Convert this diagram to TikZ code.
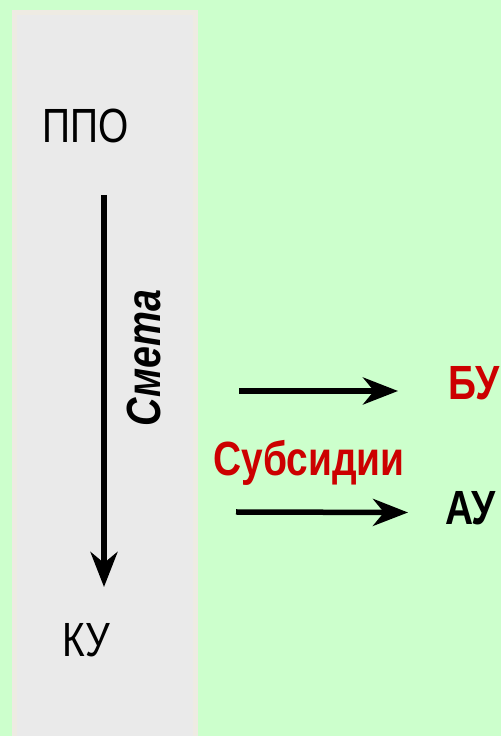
\documentclass[tikz,border=0pt]{standalone}
\usepackage{fontspec}
\setmainfont{Liberation Sans}
\usetikzlibrary{arrows.meta}
\definecolor{bggreen}{HTML}{CCFFCC}
\definecolor{panelgray}{HTML}{EAEAEA}
\definecolor{panelrim}{HTML}{EEEBE3}
\definecolor{darkred}{HTML}{CC0000}
\tikzset{
  lbl/.style={inner sep=0pt, font=\fontsize{48}{56}\selectfont, xscale=0.81},
  blbl/.style={lbl, font=\fontsize{48}{56}\selectfont\bfseries},
  arr/.style={line width=5.5pt, -{Stealth[length=35pt,width=27pt,inset=11pt]}}
}
\begin{document}
\begin{tikzpicture}[x=1pt,y=1pt]
\fill[bggreen] (0,0) rectangle (501,736);
\useasboundingbox (0,0) rectangle (501,736);
\fill[panelrim] (12,0) rectangle (197.5,726);
\fill[panelgray] (17,0) rectangle (193,720.5);
\node[lbl, anchor=base] (ppo) at (85.5,593) {ППО};
\node[lbl, anchor=base] (ku) at (86,79) {КУ};
\node[inner sep=0pt, font=\fontsize{48}{56}\selectfont\bfseries\itshape, rotate=90, xscale=0.82, anchor=base] (smeta) at (160,378) {Смета};
\node[blbl, text=darkred, anchor=base west] (bu) at (448,336) {БУ};
\node[blbl, text=darkred, anchor=base] (subs) at (309,260) {Субсидии};
\node[blbl, anchor=base] (au) at (470.5,211) {АУ};
\coordinate (v1) at (104,541);
\coordinate (v2) at (104,149);
\coordinate (a1s) at (239,345);
\coordinate (a1e) at (398,345);
\coordinate (a2s) at (236,224);
\coordinate (a2e) at (408,223.5);
\draw[arr] (v1) -- (v2);
\draw[arr] (a1s) -- (a1e);
\draw[arr] (a2s) -- (a2e);
\end{tikzpicture}
\end{document}
